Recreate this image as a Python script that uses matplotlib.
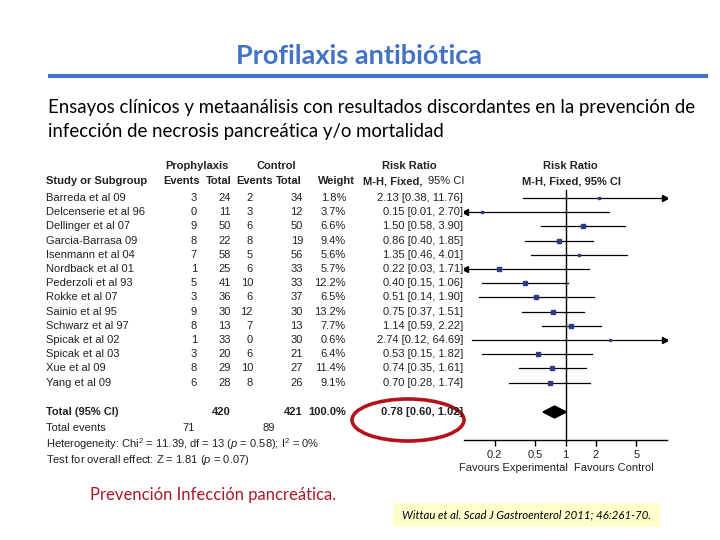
import numpy as np
import matplotlib
matplotlib.use("Agg")
import matplotlib.pyplot as plt
from matplotlib.patches import Ellipse, Rectangle, Polygon

plt.rcParams['mathtext.fontset'] = 'custom'
plt.rcParams['mathtext.rm'] = 'Liberation Sans'
plt.rcParams['mathtext.it'] = 'Liberation Sans:italic'

# data (Wittau et al. 2011)
studies = ["Barreda et al 09", "Delcenserie et al 96", "Dellinger et al 07",
           "Garcia-Barrasa 09", "Isenmann et al 04", "Nordback et al 01",
           "Pederzoli et al 93", "Rokke et al 07", "Sainio et al 95",
           "Schwarz et al 97", "Spicak et al 02", "Spicak et al 03",
           "Xue et al 09", "Yang et al 09"]
proph_events = [3, 0, 9, 8, 7, 1, 5, 3, 9, 8, 1, 3, 8, 6]
proph_total = [24, 11, 50, 22, 58, 25, 41, 36, 30, 13, 33, 20, 29, 28]
ctrl_events = [2, 3, 6, 8, 5, 6, 10, 6, 12, 7, 0, 6, 10, 8]
ctrl_total = [34, 12, 50, 19, 56, 33, 33, 37, 30, 13, 30, 21, 27, 26]
weight = [1.8, 3.7, 6.6, 9.4, 5.6, 5.7, 12.2, 6.5, 13.2, 7.7, 0.6, 6.4, 11.4, 9.1]
rr = [2.13, 0.15, 1.50, 0.86, 1.35, 0.22, 0.40, 0.51, 0.75, 1.14, 2.74, 0.53, 0.74, 0.70]
ci_lo = [0.38, 0.01, 0.58, 0.40, 0.46, 0.03, 0.15, 0.14, 0.37, 0.59, 0.12, 0.15, 0.35, 0.28]
ci_hi = [11.76, 2.70, 3.90, 1.85, 4.01, 1.71, 1.06, 1.90, 1.51, 2.22, 64.69, 1.82, 1.61, 1.74]
total_rr, total_lo, total_hi = 0.78, 0.60, 1.02
ticks = [0.2, 0.5, 1, 2, 5]
tick_labels = ["0.2", "0.5", "1", "2", "5"]
xmin, xmax = 0.1, 10

fig = plt.figure(figsize=(7.2, 5.4), dpi=100)
bg = fig.add_axes([0, 0, 1, 1])
bg.set_xlim(0, 720)
bg.set_ylim(540, 0)
bg.axis("off")

# slide title and text
bg.text(359, 56, "Profilaxis antibiótica", ha="center", va="center",
        fontsize=19.5, fontweight="bold", color="#4472C4", family="Lato")
bg.plot([48, 708], [76, 76], color="#4472C4", lw=3, solid_capstyle="butt")
bg.text(48, 107, "Ensayos clínicos y metaanálisis con resultados discordantes en la prevención de",
        ha="left", va="center", fontsize=13.4, family="Lato", color="black")
bg.text(48, 131, "infección de necrosis pancreática y/o mortalidad",
        ha="left", va="center", fontsize=13.4, family="Lato", color="black")

# table
tc = "#222222"
fs = 8
fam = "Liberation Sans"
row0, step = 198, 14.2
rows_y = [row0 + step * i for i in range(len(studies))]

bg.text(197, 166, "Prophylaxis", ha="center", va="center", fontsize=fs, fontweight="bold", color=tc, family=fam)
bg.text(276, 166, "Control", ha="center", va="center", fontsize=fs, fontweight="bold", color=tc, family=fam)
bg.text(409, 166, "Risk Ratio", ha="center", va="center", fontsize=fs, fontweight="bold", color=tc, family=fam)
bg.text(46, 181, "Study or Subgroup", ha="left", va="center", fontsize=fs, fontweight="bold", color=tc, family=fam)
for x, s in [(200, "Events"), (232, "Total"), (273, "Events"), (302, "Total"), (355, "Weight")]:
    bg.text(x, 181, s, ha="right", va="center", fontsize=fs, fontweight="bold", color=tc, family=fam)
bg.text(363, 181, "M-H, Fixed,", ha="left", va="center", fontsize=fs, fontweight="bold", color=tc, family=fam)
bg.text(428, 181, "95% CI", ha="left", va="center", fontsize=fs, color=tc, family=fam)

for i, y in enumerate(rows_y):
    bg.text(46, y, studies[i], ha="left", va="center", fontsize=fs, color=tc, family=fam)
    bg.text(197, y, str(proph_events[i]), ha="right", va="center", fontsize=fs, color=tc, family=fam)
    bg.text(231, y, str(proph_total[i]), ha="right", va="center", fontsize=fs, color=tc, family=fam)
    bg.text(253, y, str(ctrl_events[i]), ha="right", va="center", fontsize=fs, color=tc, family=fam)
    bg.text(303, y, str(ctrl_total[i]), ha="right", va="center", fontsize=fs, color=tc, family=fam)
    bg.text(346, y, f"{weight[i]:.1f}%", ha="right", va="center", fontsize=fs, color=tc, family=fam)
    bg.text(463, y, f"{rr[i]:.2f} [{ci_lo[i]:.2f}, {ci_hi[i]:.2f}]", ha="right", va="center",
            fontsize=fs, color=tc, family=fam)

ty = 412
bg.text(46, ty, "Total (95% CI)", ha="left", va="center", fontsize=fs, fontweight="bold", color=tc, family=fam)
bg.text(231, ty, str(sum(proph_total)), ha="right", va="center", fontsize=fs, fontweight="bold", color=tc, family=fam)
bg.text(303, ty, str(sum(ctrl_total)), ha="right", va="center", fontsize=fs, fontweight="bold", color=tc, family=fam)
bg.text(346, ty, "100.0%", ha="right", va="center", fontsize=fs, fontweight="bold", color=tc, family=fam)
bg.text(463, ty, f"{total_rr:.2f} [{total_lo:.2f}, {total_hi:.2f}]", ha="right", va="center",
        fontsize=fs, fontweight="bold", color=tc, family=fam)
bg.text(46, 428, "Total events", ha="left", va="center", fontsize=fs, color=tc, family=fam)
bg.text(195, 428, str(sum(proph_events)), ha="right", va="center", fontsize=fs, color=tc, family=fam)
bg.text(275, 428, str(sum(ctrl_events)), ha="right", va="center", fontsize=fs, color=tc, family=fam)
bg.text(46, 444, r"Heterogeneity: Chi$^2$ = 11.39, df = 13 ($\it{p}$ = 0.58); I$^2$ = 0%",
        ha="left", va="center", fontsize=fs, color=tc, family=fam)
bg.text(46, 460, r"Test for overall effect: Z = 1.81 ($\it{p}$ = 0.07)",
        ha="left", va="center", fontsize=fs, color=tc, family=fam)

# red ellipse around the pooled estimate
bg.add_patch(Ellipse((408, 420), 112, 42, fill=False, edgecolor="#B3121C", lw=2.6))

# forest plot
ax = fig.add_axes([464 / 720, 1 - 440 / 540, (667 - 464) / 720, (440 - 188) / 540])
ax.set_xscale("log")
ax.set_xlim(xmin, xmax)
ax.set_ylim(440, 188)
ax.patch.set_alpha(0)
for s in ["left", "top", "right"]:
    ax.spines[s].set_visible(False)
ax.spines["bottom"].set_linewidth(1)
ax.set_yticks([])
ax.set_xticks(ticks)
ax.set_xticklabels(tick_labels, fontsize=fs, color=tc, family=fam)
ax.minorticks_off()
ax.tick_params(axis="x", direction="out", length=4, width=1, pad=3)
ax.plot([1, 1], [190, 440], color="black", lw=1)

for i, y in enumerate(rows_y):
    lo = max(ci_lo[i], xmin * 1.03)
    hi = min(ci_hi[i], xmax * 0.95)
    ax.plot([lo, hi], [y, y], color="black", lw=0.9)
    if ci_lo[i] < xmin:
        ax.plot(lo, y, marker="<", color="black", ms=4.5)
    if ci_hi[i] > xmax:
        ax.plot(hi, y, marker=">", color="black", ms=4.5)
    ax.plot(rr[i], y, marker="s", color="#2F3B86", ms=1.2 + 0.17 * weight[i], mec="#2F3B86")

ax.add_patch(Polygon([(total_lo, ty), (total_rr, ty - 6), (total_hi, ty), (total_rr, ty + 6)],
                     closed=True, color="black"))

bg.text(570, 166, "Risk Ratio", ha="center", va="center", fontsize=fs, fontweight="bold", color=tc, family=fam)
bg.text(571, 181, "M-H, Fixed, 95% CI", ha="center", va="center", fontsize=fs, fontweight="bold", color=tc, family=fam)
bg.text(568, 468, "Favours Experimental", ha="right", va="center", fontsize=fs, color=tc, family=fam)
bg.text(574, 468, "Favours Control", ha="left", va="center", fontsize=fs, color=tc, family=fam)

# footer
bg.text(90, 495, "Prevención Infección pancreática.", ha="left", va="center",
        fontsize=12, color="#A8192B", family="Lato")
bg.add_patch(Rectangle((393, 503), 267, 24, facecolor="#FFFFCC", edgecolor="none"))
bg.text(402, 515, "Wittau et al. Scad J Gastroenterol 2011; 46:261-70.", ha="left", va="center",
        fontsize=8.2, style="italic", color="black", family="Lato")

fig.savefig("out.png", dpi=100)
